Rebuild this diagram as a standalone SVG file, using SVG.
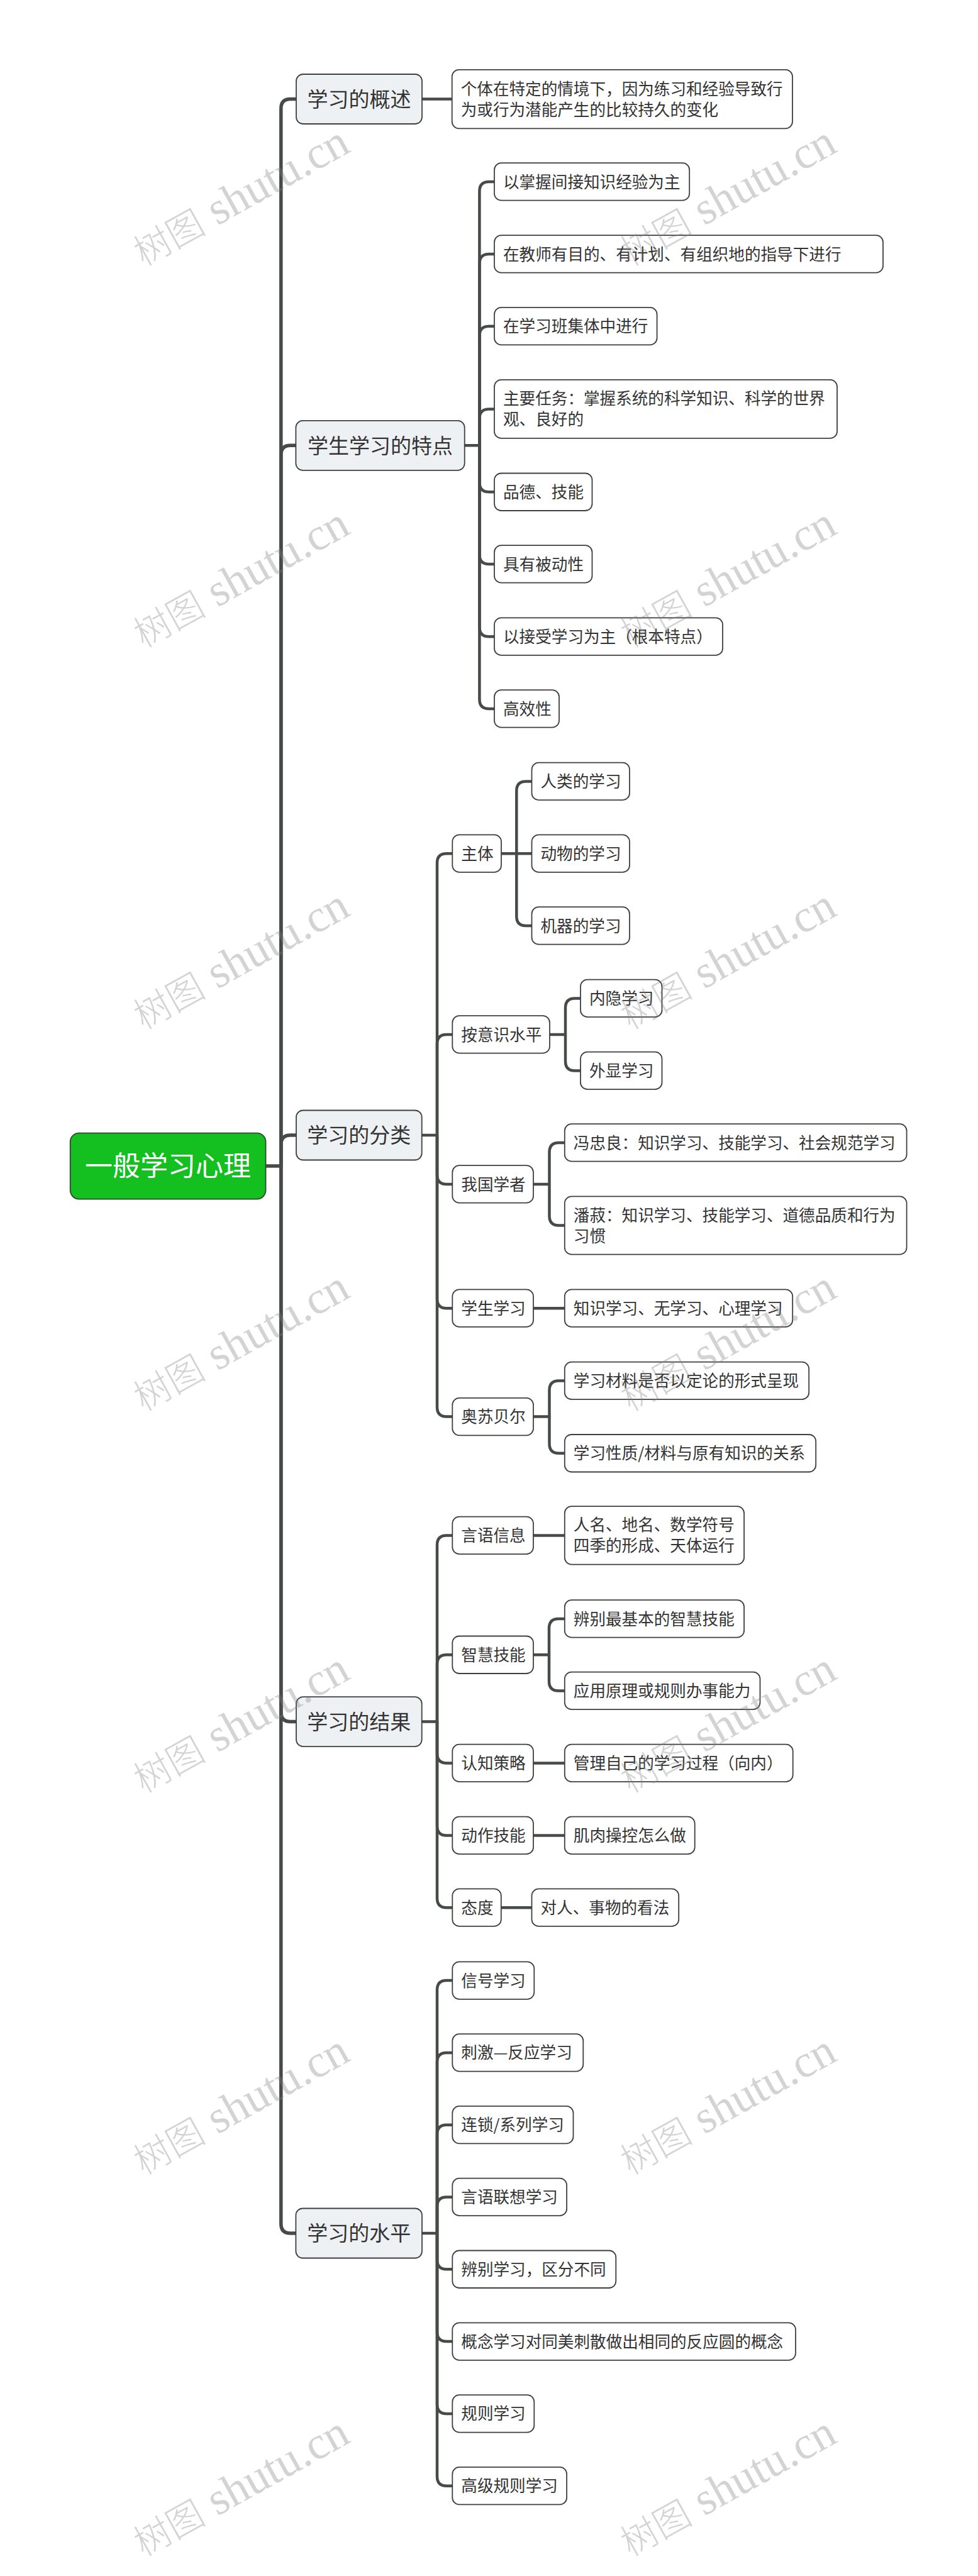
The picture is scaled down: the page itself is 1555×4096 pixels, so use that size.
<svg xmlns="http://www.w3.org/2000/svg" width="1555" height="4096" viewBox="0 0 1555 4096">
<style>
.bg{fill:#ffffff}
.c{fill:none;stroke:#474b47;stroke-width:4.5;stroke-linejoin:round}
.c0{fill:none;stroke:#474b47;stroke-width:5.5;stroke-linejoin:round}
.n0{fill:#13c020;stroke:#2f4a2f;stroke-width:1.8}
.n1{fill:#eef1f4;stroke:#3d403d;stroke-width:1.8}
.n2{fill:#ffffff;stroke:#3d403d;stroke-width:1.8}
.t{font-family:"Noto Sans CJK SC","Noto Sans",sans-serif;fill:#333333;font-size:25.6px}
.t1{font-family:"Noto Sans CJK SC","Noto Sans",sans-serif;fill:#333333;font-size:33px;text-anchor:middle}
.t0{font-family:"Noto Sans CJK SC","Noto Sans",sans-serif;fill:#ffffff;font-size:44px;text-anchor:middle}
.wm{fill:#808080;fill-opacity:0.35}
.wa{font-family:"Noto Sans CJK SC",sans-serif;font-size:58px;font-weight:300}
.wb{font-family:"Liberation Serif",serif;font-size:73px}
</style>
<rect class="bg" x="0" y="0" width="1555" height="4096"/>

<g id="connectors">
<path class="c0" d="M422.5 1854 H446.8 V172.5 Q446.8 157.5 461.8 157.5 H471"/>
<path class="c0" d="M446.8 1854 V723.3 Q446.8 708.3 461.8 708.3 H471"/>
<path class="c0" d="M446.8 1854 V1820 Q446.8 1805 461.8 1805 H471"/>
<path class="c0" d="M446.8 1854 V2722.6 Q446.8 2737.6 461.8 2737.6 H471"/>
<path class="c0" d="M446.8 1854 V3536 Q446.8 3551 461.8 3551 H471"/>
<path class="c" d="M671 157.5 H718.7"/>
<path class="c" d="M738.7 708.3 H762.4 V304 Q762.4 289 777.4 289 H786"/>
<path class="c" d="M762.4 708.3 V419 Q762.4 404 777.4 404 H786"/>
<path class="c" d="M762.4 708.3 V533.7 Q762.4 518.7 777.4 518.7 H786"/>
<path class="c" d="M762.4 708.3 V665.4 Q762.4 650.4 777.4 650.4 H786"/>
<path class="c" d="M762.4 708.3 V767.3 Q762.4 782.3 777.4 782.3 H786"/>
<path class="c" d="M762.4 708.3 V882 Q762.4 897 777.4 897 H786"/>
<path class="c" d="M762.4 708.3 V997.2 Q762.4 1012.2 777.4 1012.2 H786"/>
<path class="c" d="M762.4 708.3 V1112 Q762.4 1127 777.4 1127 H786"/>
<path class="c" d="M670.7 1805 H695 V1372.2 Q695 1357.2 710 1357.2 H719.3"/>
<path class="c" d="M695 1805 V1660 Q695 1645 710 1645 H719.3"/>
<path class="c" d="M695 1805 V1868 Q695 1883 710 1883 H719.3"/>
<path class="c" d="M695 1805 V2065.2 Q695 2080.2 710 2080.2 H719.3"/>
<path class="c" d="M695 1805 V2237.6 Q695 2252.6 710 2252.6 H719.3"/>
<path class="c" d="M797 1357.2 H821.3 V1257.5 Q821.3 1242.5 836.3 1242.5 H845.5"/>
<path class="c" d="M821.3 1357.2 H845.5"/>
<path class="c" d="M821.3 1357.2 V1457 Q821.3 1472 836.3 1472 H845.5"/>
<path class="c" d="M874 1645 H899 V1602.5 Q899 1587.5 914 1587.5 H923"/>
<path class="c" d="M899 1645 V1687.5 Q899 1702.5 914 1702.5 H923"/>
<path class="c" d="M848 1883 H873.5 V1832 Q873.5 1817 888.5 1817 H897.8"/>
<path class="c" d="M873.5 1883 V1933.5 Q873.5 1948.5 888.5 1948.5 H897.8"/>
<path class="c" d="M848 2080.2 H897.8"/>
<path class="c" d="M848 2252.6 H873.5 V2210.5 Q873.5 2195.5 888.5 2195.5 H897.8"/>
<path class="c" d="M873.5 2252.6 V2295.8 Q873.5 2310.8 888.5 2310.8 H897.8"/>
<path class="c" d="M670.7 2737.6 H695 V2456.4 Q695 2441.4 710 2441.4 H719.3"/>
<path class="c" d="M695 2737.6 V2646.3 Q695 2631.3 710 2631.3 H719.3"/>
<path class="c" d="M695 2737.6 V2788.4 Q695 2803.4 710 2803.4 H719.3"/>
<path class="c" d="M695 2737.6 V2903.5 Q695 2918.5 710 2918.5 H719.3"/>
<path class="c" d="M695 2737.6 V3018.2 Q695 3033.2 710 3033.2 H719.3"/>
<path class="c" d="M848 2441.4 H897.8"/>
<path class="c" d="M848 2631.3 H873 V2589 Q873 2574 888 2574 H897.8"/>
<path class="c" d="M873 2631.3 V2673.4 Q873 2688.4 888 2688.4 H897.8"/>
<path class="c" d="M848 2803.4 H897.8"/>
<path class="c" d="M848 2918.5 H897.8"/>
<path class="c" d="M796.8 3033.2 H845.5"/>
<path class="c" d="M671 3551 H695 V3164.1 Q695 3149.1 710 3149.1 H719.3"/>
<path class="c" d="M695 3551 V3278.9 Q695 3263.9 710 3263.9 H719.3"/>
<path class="c" d="M695 3551 V3393.7 Q695 3378.7 710 3378.7 H719.3"/>
<path class="c" d="M695 3551 V3508.5 Q695 3493.5 710 3493.5 H719.3"/>
<path class="c" d="M695 3551 V3593.3 Q695 3608.3 710 3608.3 H719.3"/>
<path class="c" d="M695 3551 V3708.1 Q695 3723.1 710 3723.1 H719.3"/>
<path class="c" d="M695 3551 V3822.9 Q695 3837.9 710 3837.9 H719.3"/>
<path class="c" d="M695 3551 V3937.7 Q695 3952.7 710 3952.7 H719.3"/>
</g>

<g id="root"><rect class="n0" x="111.7" y="1801.6" width="310.8" height="105" rx="14"/><text class="t0" x="267.1" y="1870.3">一般学习心理</text></g>

<g id="l1-gaishu"><rect class="n1" x="471" y="118" width="200" height="79" rx="11"/><text class="t1" x="571" y="169.7">学习的概述</text></g>
<g id="l1-tedian"><rect class="n1" x="470.4" y="668.8" width="268.3" height="79" rx="11"/><text class="t1" x="604.5" y="720.5">学生学习的特点</text></g>
<g id="l1-fenlei"><rect class="n1" x="471" y="1765.5" width="199.7" height="79" rx="11"/><text class="t1" x="570.8" y="1817.2">学习的分类</text></g>
<g id="l1-jieguo"><rect class="n1" x="471" y="2698.1" width="199.7" height="79" rx="11"/><text class="t1" x="570.8" y="2749.8">学习的结果</text></g>
<g id="l1-shuiping"><rect class="n1" x="470.4" y="3511.5" width="200.6" height="79" rx="11"/><text class="t1" x="570.7" y="3563.2">学习的水平</text></g>

<g id="gaishu-def"><rect class="n2" x="718.7" y="110.8" width="541.3" height="93.5" rx="11"/><text class="t" x="732.7" y="150.5">个体在特定的情境下，因为练习和经验导致行</text><text class="t" x="732.7" y="183.5">为或行为潜能产生的比较持久的变化</text></g>

<g id="td1"><rect class="n2" x="786" y="259.2" width="310.2" height="59.5" rx="11"/><text class="t" x="800" y="298.5">以掌握间接知识经验为主</text></g>
<g id="td2"><rect class="n2" x="786" y="374.2" width="618" height="59.5" rx="11"/><text class="t" x="800" y="413.5">在教师有目的、有计划、有组织地的指导下进行</text></g>
<g id="td3"><rect class="n2" x="786" y="488.9" width="258.6" height="59.5" rx="11"/><text class="t" x="800" y="528.2">在学习班集体中进行</text></g>
<g id="td4"><rect class="n2" x="786" y="603.9" width="545" height="93" rx="11"/><text class="t" x="800" y="643.4">主要任务：掌握系统的科学知识、科学的世界</text><text class="t" x="800" y="676.4">观、良好的</text></g>
<g id="td5"><rect class="n2" x="786" y="752.5" width="155.5" height="59.5" rx="11"/><text class="t" x="800" y="791.8">品德、技能</text></g>
<g id="td6"><rect class="n2" x="786" y="867.2" width="155.5" height="59.5" rx="11"/><text class="t" x="800" y="906.5">具有被动性</text></g>
<g id="td7"><rect class="n2" x="786" y="982.4" width="363" height="59.5" rx="11"/><text class="t" x="800" y="1021.7">以接受学习为主（根本特点）</text></g>
<g id="td8"><rect class="n2" x="786" y="1097.2" width="103" height="59.5" rx="11"/><text class="t" x="800" y="1136.5">高效性</text></g>

<g id="fl1"><rect class="n2" x="719.3" y="1327.4" width="77.7" height="59.5" rx="11"/><text class="t" x="733.3" y="1366.7">主体</text></g>
<g id="fl11"><rect class="n2" x="845.5" y="1212.7" width="155.5" height="59.5" rx="11"/><text class="t" x="859.5" y="1252">人类的学习</text></g>
<g id="fl12"><rect class="n2" x="845.5" y="1327.4" width="155.5" height="59.5" rx="11"/><text class="t" x="859.5" y="1366.7">动物的学习</text></g>
<g id="fl13"><rect class="n2" x="845.5" y="1442.2" width="155.5" height="59.5" rx="11"/><text class="t" x="859.5" y="1481.5">机器的学习</text></g>
<g id="fl2"><rect class="n2" x="719.3" y="1615.2" width="154.7" height="59.5" rx="11"/><text class="t" x="733.3" y="1654.5">按意识水平</text></g>
<g id="fl21"><rect class="n2" x="923" y="1557.7" width="129.5" height="59.5" rx="11"/><text class="t" x="937" y="1597">内隐学习</text></g>
<g id="fl22"><rect class="n2" x="923" y="1672.7" width="129.5" height="59.5" rx="11"/><text class="t" x="937" y="1712">外显学习</text></g>
<g id="fl3"><rect class="n2" x="719.3" y="1853.2" width="128.7" height="59.5" rx="11"/><text class="t" x="733.3" y="1892.5">我国学者</text></g>
<g id="fl31"><rect class="n2" x="897.8" y="1787.2" width="543.8" height="59.5" rx="11"/><text class="t" x="911.8" y="1826.5">冯忠良：知识学习、技能学习、社会规范学习</text></g>
<g id="fl32"><rect class="n2" x="897.8" y="1902.3" width="543.8" height="92.4" rx="11"/><text class="t" x="911.8" y="1941.5">潘菽：知识学习、技能学习、道德品质和行为</text><text class="t" x="911.8" y="1974.5">习惯</text></g>
<g id="fl4"><rect class="n2" x="719.3" y="2050.4" width="128.7" height="59.5" rx="11"/><text class="t" x="733.3" y="2089.7">学生学习</text></g>
<g id="fl41"><rect class="n2" x="897.8" y="2050.4" width="362.4" height="59.5" rx="11"/><text class="t" x="911.8" y="2089.7">知识学习、无学习、心理学习</text></g>
<g id="fl5"><rect class="n2" x="719.3" y="2222.8" width="128.7" height="59.5" rx="11"/><text class="t" x="733.3" y="2262.1">奥苏贝尔</text></g>
<g id="fl51"><rect class="n2" x="897.8" y="2165.7" width="388.4" height="59.5" rx="11"/><text class="t" x="911.8" y="2205">学习材料是否以定论的形式呈现</text></g>
<g id="fl52"><rect class="n2" x="897.8" y="2281" width="399.4" height="59.5" rx="11"/><text class="t" x="911.8" y="2320.3">学习性质/材料与原有知识的关系</text></g>

<g id="jg1"><rect class="n2" x="719.3" y="2411.6" width="128.7" height="59.5" rx="11"/><text class="t" x="733.3" y="2450.9">言语信息</text></g>
<g id="jg11"><rect class="n2" x="897.8" y="2395.2" width="285.3" height="92.4" rx="11"/><text class="t" x="911.8" y="2434.4">人名、地名、数学符号</text><text class="t" x="911.8" y="2467.4">四季的形成、天体运行</text></g>
<g id="jg2"><rect class="n2" x="719.3" y="2601.5" width="128.7" height="59.5" rx="11"/><text class="t" x="733.3" y="2640.8">智慧技能</text></g>
<g id="jg21"><rect class="n2" x="897.8" y="2544.2" width="285.3" height="59.5" rx="11"/><text class="t" x="911.8" y="2583.5">辨别最基本的智慧技能</text></g>
<g id="jg22"><rect class="n2" x="897.8" y="2658.6" width="310.7" height="59.5" rx="11"/><text class="t" x="911.8" y="2697.9">应用原理或规则办事能力</text></g>
<g id="jg3"><rect class="n2" x="719.3" y="2773.6" width="128.7" height="59.5" rx="11"/><text class="t" x="733.3" y="2812.9">认知策略</text></g>
<g id="jg31"><rect class="n2" x="897.8" y="2773.6" width="362.9" height="59.5" rx="11"/><text class="t" x="911.8" y="2812.9">管理自己的学习过程（向内）</text></g>
<g id="jg4"><rect class="n2" x="719.3" y="2888.7" width="128.7" height="59.5" rx="11"/><text class="t" x="733.3" y="2928">动作技能</text></g>
<g id="jg41"><rect class="n2" x="897.8" y="2888.7" width="206.9" height="59.5" rx="11"/><text class="t" x="911.8" y="2928">肌肉操控怎么做</text></g>
<g id="jg5"><rect class="n2" x="719.3" y="3003.4" width="77.5" height="59.5" rx="11"/><text class="t" x="733.3" y="3042.7">态度</text></g>
<g id="jg51"><rect class="n2" x="845.5" y="3003.4" width="233.7" height="59.5" rx="11"/><text class="t" x="859.5" y="3042.7">对人、事物的看法</text></g>

<g id="sp1"><rect class="n2" x="719.3" y="3119.3" width="130" height="59.5" rx="11"/><text class="t" x="733.3" y="3158.6">信号学习</text></g>
<g id="sp2"><rect class="n2" x="719.3" y="3234.1" width="208" height="59.5" rx="11"/><text class="t" x="733.3" y="3273.4">刺激—反应学习</text></g>
<g id="sp3"><rect class="n2" x="719.3" y="3348.9" width="192.2" height="59.5" rx="11"/><text class="t" x="733.3" y="3388.2">连锁/系列学习</text></g>
<g id="sp4"><rect class="n2" x="719.3" y="3463.7" width="181.8" height="59.5" rx="11"/><text class="t" x="733.3" y="3503">言语联想学习</text></g>
<g id="sp5"><rect class="n2" x="719.3" y="3578.5" width="260" height="59.5" rx="11"/><text class="t" x="733.3" y="3617.8">辨别学习，区分不同</text></g>
<g id="sp6"><rect class="n2" x="719.3" y="3693.3" width="545.7" height="59.5" rx="11"/><text class="t" x="733.3" y="3732.6">概念学习对同美刺散做出相同的反应圆的概念</text></g>
<g id="sp7"><rect class="n2" x="719.3" y="3808.1" width="130" height="59.5" rx="11"/><text class="t" x="733.3" y="3847.4">规则学习</text></g>
<g id="sp8"><rect class="n2" x="719.3" y="3922.9" width="181.8" height="59.5" rx="11"/><text class="t" x="733.3" y="3962.2">高级规则学习</text></g>

<g id="watermarks" class="wm">
<text transform="translate(228 424) rotate(-29)"><tspan class="wa">树图</tspan><tspan class="wb"> shutu.cn</tspan></text>
<text transform="translate(1002 424) rotate(-29)"><tspan class="wa">树图</tspan><tspan class="wb"> shutu.cn</tspan></text>
<text transform="translate(228 1031) rotate(-29)"><tspan class="wa">树图</tspan><tspan class="wb"> shutu.cn</tspan></text>
<text transform="translate(1002 1031) rotate(-29)"><tspan class="wa">树图</tspan><tspan class="wb"> shutu.cn</tspan></text>
<text transform="translate(228 1638) rotate(-29)"><tspan class="wa">树图</tspan><tspan class="wb"> shutu.cn</tspan></text>
<text transform="translate(1002 1638) rotate(-29)"><tspan class="wa">树图</tspan><tspan class="wb"> shutu.cn</tspan></text>
<text transform="translate(228 2245) rotate(-29)"><tspan class="wa">树图</tspan><tspan class="wb"> shutu.cn</tspan></text>
<text transform="translate(1002 2245) rotate(-29)"><tspan class="wa">树图</tspan><tspan class="wb"> shutu.cn</tspan></text>
<text transform="translate(228 2852) rotate(-29)"><tspan class="wa">树图</tspan><tspan class="wb"> shutu.cn</tspan></text>
<text transform="translate(1002 2852) rotate(-29)"><tspan class="wa">树图</tspan><tspan class="wb"> shutu.cn</tspan></text>
<text transform="translate(228 3459) rotate(-29)"><tspan class="wa">树图</tspan><tspan class="wb"> shutu.cn</tspan></text>
<text transform="translate(1002 3459) rotate(-29)"><tspan class="wa">树图</tspan><tspan class="wb"> shutu.cn</tspan></text>
<text transform="translate(228 4066) rotate(-29)"><tspan class="wa">树图</tspan><tspan class="wb"> shutu.cn</tspan></text>
<text transform="translate(1002 4066) rotate(-29)"><tspan class="wa">树图</tspan><tspan class="wb"> shutu.cn</tspan></text>
</g>
</svg>
